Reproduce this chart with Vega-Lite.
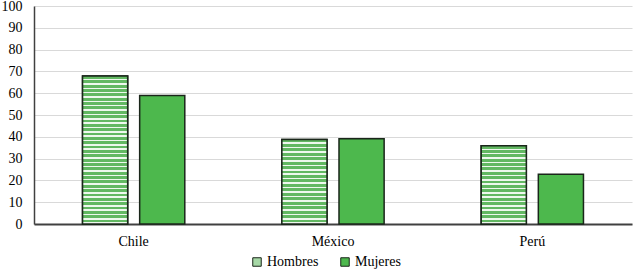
{
  "$schema": "https://vega.github.io/schema/vega-lite/v6.json",
  "width": 598,
  "height": 218,
  "autosize": {"type": "none"},
  "padding": {"left": 34, "top": 6, "right": 2, "bottom": 47},
  "background": "white",
  "config": {"view": {"stroke": null}, "font": "Times New Roman, Liberation Serif, DejaVu Serif, serif",
    "axis": {"labelFont": "Times New Roman, Liberation Serif, DejaVu Serif, serif"}, "legend": {"labelFont": "Times New Roman, Liberation Serif, DejaVu Serif, serif"}},
  "data": {"values": [
    {"pais": "Chile", "sexo": "Hombres", "valor": 67.9},
    {"pais": "Chile", "sexo": "Mujeres", "valor": 59.0},
    {"pais": "México", "sexo": "Hombres", "valor": 38.8},
    {"pais": "México", "sexo": "Mujeres", "valor": 39.1},
    {"pais": "Perú", "sexo": "Hombres", "valor": 35.9},
    {"pais": "Perú", "sexo": "Mujeres", "valor": 22.8}
  ]},
  "encoding": {
    "x": {"field": "pais", "type": "nominal", "sort": ["Chile", "México", "Perú"],
      "scale": {"paddingInner": 0.487, "paddingOuter": 0.2435},
      "axis": {"title": null, "labelAngle": 0, "ticks": false, "domainColor": "#404040", "domainWidth": 2, "labelPadding": 10, "labelFontSize": 14, "labelColor": "black", "grid": false}},
    "xOffset": {"field": "sexo", "type": "nominal", "sort": ["Hombres", "Mujeres"],
      "scale": {"paddingInner": 0.21, "paddingOuter": 0}},
    "y": {"field": "valor", "type": "quantitative",
      "scale": {"domain": [0, 100], "nice": false},
      "axis": {"title": null, "values": [0,10,20,30,40,50,60,70,80,90,100], "grid": true, "gridColor": "#d9d9d9", "gridWidth": 1, "domain": true, "domainColor": "#404040", "domainWidth": 1.5, "ticks": false, "labelPadding": 12, "labelFontSize": 14, "labelColor": "black"}}
  },
  "layer": [
    {
      "mark": {"type": "bar", "stroke": "#1a261a", "strokeWidth": 1.5},
      "encoding": {
        "color": {"field": "sexo", "type": "nominal", "sort": ["Hombres", "Mujeres"],
          "scale": {"domain": ["Hombres", "Mujeres"], "range": ["#a6d8a6", "#4db84d"]},
          "legend": {"orient": "none", "legendX": 216, "legendY": 249, "direction": "horizontal", "title": null, "symbolType": "square", "symbolSize": 72, "symbolStrokeColor": "#1a261a", "symbolStrokeWidth": 1, "labelFontSize": 14, "labelColor": "black", "labelOffset": 3, "columnPadding": 19}}
      }
    },
    {
      "transform": [{"filter": "datum.sexo === 'Hombres'"}],
      "mark": {"type": "bar", "stroke": "#1a261a", "strokeWidth": 1.5},
      "encoding": {
        "fill": {
          "condition": [
            {"test": "datum.pais === 'Chile'", "value": {"gradient": "linear", "x1": 0, "y1": 0, "x2": 0, "y2": 1, "stops": [
              {"offset": 0, "color": "#62b862"}, {"offset": 0.0191, "color": "#62b862"}, {"offset": 0.0191, "color": "#eef8ee"}, {"offset": 0.0294, "color": "#eef8ee"},
              {"offset": 0.0294, "color": "#62b862"}, {"offset": 0.0485, "color": "#62b862"}, {"offset": 0.0485, "color": "#eef8ee"}, {"offset": 0.0588, "color": "#eef8ee"},
              {"offset": 0.0588, "color": "#62b862"}, {"offset": 0.0779, "color": "#62b862"}, {"offset": 0.0779, "color": "#eef8ee"}, {"offset": 0.0882, "color": "#eef8ee"},
              {"offset": 0.0882, "color": "#62b862"}, {"offset": 0.1073, "color": "#62b862"}, {"offset": 0.1073, "color": "#eef8ee"}, {"offset": 0.1176, "color": "#eef8ee"},
              {"offset": 0.1176, "color": "#62b862"}, {"offset": 0.1367, "color": "#62b862"}, {"offset": 0.1367, "color": "#eef8ee"}, {"offset": 0.1471, "color": "#eef8ee"},
              {"offset": 0.1471, "color": "#62b862"}, {"offset": 0.1662, "color": "#62b862"}, {"offset": 0.1662, "color": "#eef8ee"}, {"offset": 0.1765, "color": "#eef8ee"},
              {"offset": 0.1765, "color": "#62b862"}, {"offset": 0.1956, "color": "#62b862"}, {"offset": 0.1956, "color": "#eef8ee"}, {"offset": 0.2059, "color": "#eef8ee"},
              {"offset": 0.2059, "color": "#62b862"}, {"offset": 0.2250, "color": "#62b862"}, {"offset": 0.2250, "color": "#eef8ee"}, {"offset": 0.2353, "color": "#eef8ee"},
              {"offset": 0.2353, "color": "#62b862"}, {"offset": 0.2544, "color": "#62b862"}, {"offset": 0.2544, "color": "#eef8ee"}, {"offset": 0.2647, "color": "#eef8ee"},
              {"offset": 0.2647, "color": "#62b862"}, {"offset": 0.2838, "color": "#62b862"}, {"offset": 0.2838, "color": "#eef8ee"}, {"offset": 0.2941, "color": "#eef8ee"},
              {"offset": 0.2941, "color": "#62b862"}, {"offset": 0.3132, "color": "#62b862"}, {"offset": 0.3132, "color": "#eef8ee"}, {"offset": 0.3235, "color": "#eef8ee"},
              {"offset": 0.3235, "color": "#62b862"}, {"offset": 0.3426, "color": "#62b862"}, {"offset": 0.3426, "color": "#eef8ee"}, {"offset": 0.3529, "color": "#eef8ee"},
              {"offset": 0.3529, "color": "#62b862"}, {"offset": 0.3720, "color": "#62b862"}, {"offset": 0.3720, "color": "#eef8ee"}, {"offset": 0.3824, "color": "#eef8ee"},
              {"offset": 0.3824, "color": "#62b862"}, {"offset": 0.4015, "color": "#62b862"}, {"offset": 0.4015, "color": "#eef8ee"}, {"offset": 0.4118, "color": "#eef8ee"},
              {"offset": 0.4118, "color": "#62b862"}, {"offset": 0.4309, "color": "#62b862"}, {"offset": 0.4309, "color": "#eef8ee"}, {"offset": 0.4412, "color": "#eef8ee"},
              {"offset": 0.4412, "color": "#62b862"}, {"offset": 0.4603, "color": "#62b862"}, {"offset": 0.4603, "color": "#eef8ee"}, {"offset": 0.4706, "color": "#eef8ee"},
              {"offset": 0.4706, "color": "#62b862"}, {"offset": 0.4897, "color": "#62b862"}, {"offset": 0.4897, "color": "#eef8ee"}, {"offset": 0.5, "color": "#eef8ee"},
              {"offset": 0.5, "color": "#62b862"}, {"offset": 0.5191, "color": "#62b862"}, {"offset": 0.5191, "color": "#eef8ee"}, {"offset": 0.5294, "color": "#eef8ee"},
              {"offset": 0.5294, "color": "#62b862"}, {"offset": 0.5485, "color": "#62b862"}, {"offset": 0.5485, "color": "#eef8ee"}, {"offset": 0.5588, "color": "#eef8ee"},
              {"offset": 0.5588, "color": "#62b862"}, {"offset": 0.5779, "color": "#62b862"}, {"offset": 0.5779, "color": "#eef8ee"}, {"offset": 0.5882, "color": "#eef8ee"},
              {"offset": 0.5882, "color": "#62b862"}, {"offset": 0.6073, "color": "#62b862"}, {"offset": 0.6073, "color": "#eef8ee"}, {"offset": 0.6176, "color": "#eef8ee"},
              {"offset": 0.6176, "color": "#62b862"}, {"offset": 0.6367, "color": "#62b862"}, {"offset": 0.6367, "color": "#eef8ee"}, {"offset": 0.6471, "color": "#eef8ee"},
              {"offset": 0.6471, "color": "#62b862"}, {"offset": 0.6662, "color": "#62b862"}, {"offset": 0.6662, "color": "#eef8ee"}, {"offset": 0.6765, "color": "#eef8ee"},
              {"offset": 0.6765, "color": "#62b862"}, {"offset": 0.6956, "color": "#62b862"}, {"offset": 0.6956, "color": "#eef8ee"}, {"offset": 0.7059, "color": "#eef8ee"},
              {"offset": 0.7059, "color": "#62b862"}, {"offset": 0.7250, "color": "#62b862"}, {"offset": 0.7250, "color": "#eef8ee"}, {"offset": 0.7353, "color": "#eef8ee"},
              {"offset": 0.7353, "color": "#62b862"}, {"offset": 0.7544, "color": "#62b862"}, {"offset": 0.7544, "color": "#eef8ee"}, {"offset": 0.7647, "color": "#eef8ee"},
              {"offset": 0.7647, "color": "#62b862"}, {"offset": 0.7838, "color": "#62b862"}, {"offset": 0.7838, "color": "#eef8ee"}, {"offset": 0.7941, "color": "#eef8ee"},
              {"offset": 0.7941, "color": "#62b862"}, {"offset": 0.8132, "color": "#62b862"}, {"offset": 0.8132, "color": "#eef8ee"}, {"offset": 0.8235, "color": "#eef8ee"},
              {"offset": 0.8235, "color": "#62b862"}, {"offset": 0.8426, "color": "#62b862"}, {"offset": 0.8426, "color": "#eef8ee"}, {"offset": 0.8529, "color": "#eef8ee"},
              {"offset": 0.8529, "color": "#62b862"}, {"offset": 0.8720, "color": "#62b862"}, {"offset": 0.8720, "color": "#eef8ee"}, {"offset": 0.8824, "color": "#eef8ee"},
              {"offset": 0.8824, "color": "#62b862"}, {"offset": 0.9015, "color": "#62b862"}, {"offset": 0.9015, "color": "#eef8ee"}, {"offset": 0.9118, "color": "#eef8ee"},
              {"offset": 0.9118, "color": "#62b862"}, {"offset": 0.9309, "color": "#62b862"}, {"offset": 0.9309, "color": "#eef8ee"}, {"offset": 0.9412, "color": "#eef8ee"},
              {"offset": 0.9412, "color": "#62b862"}, {"offset": 0.9603, "color": "#62b862"}, {"offset": 0.9603, "color": "#eef8ee"}, {"offset": 0.9706, "color": "#eef8ee"},
              {"offset": 0.9706, "color": "#62b862"}, {"offset": 0.9897, "color": "#62b862"}, {"offset": 0.9897, "color": "#eef8ee"}, {"offset": 1, "color": "#eef8ee"}
            ]}},
            {"test": "datum.pais === 'México'", "value": {"gradient": "linear", "x1": 0, "y1": 0, "x2": 0, "y2": 1, "stops": [
              {"offset": 0, "color": "#62b862"}, {"offset": 0.0342, "color": "#62b862"}, {"offset": 0.0342, "color": "#eef8ee"}, {"offset": 0.0526, "color": "#eef8ee"},
              {"offset": 0.0526, "color": "#62b862"}, {"offset": 0.0868, "color": "#62b862"}, {"offset": 0.0868, "color": "#eef8ee"}, {"offset": 0.1053, "color": "#eef8ee"},
              {"offset": 0.1053, "color": "#62b862"}, {"offset": 0.1395, "color": "#62b862"}, {"offset": 0.1395, "color": "#eef8ee"}, {"offset": 0.1579, "color": "#eef8ee"},
              {"offset": 0.1579, "color": "#62b862"}, {"offset": 0.1921, "color": "#62b862"}, {"offset": 0.1921, "color": "#eef8ee"}, {"offset": 0.2105, "color": "#eef8ee"},
              {"offset": 0.2105, "color": "#62b862"}, {"offset": 0.2447, "color": "#62b862"}, {"offset": 0.2447, "color": "#eef8ee"}, {"offset": 0.2632, "color": "#eef8ee"},
              {"offset": 0.2632, "color": "#62b862"}, {"offset": 0.2974, "color": "#62b862"}, {"offset": 0.2974, "color": "#eef8ee"}, {"offset": 0.3158, "color": "#eef8ee"},
              {"offset": 0.3158, "color": "#62b862"}, {"offset": 0.3500, "color": "#62b862"}, {"offset": 0.3500, "color": "#eef8ee"}, {"offset": 0.3684, "color": "#eef8ee"},
              {"offset": 0.3684, "color": "#62b862"}, {"offset": 0.4026, "color": "#62b862"}, {"offset": 0.4026, "color": "#eef8ee"}, {"offset": 0.4211, "color": "#eef8ee"},
              {"offset": 0.4211, "color": "#62b862"}, {"offset": 0.4553, "color": "#62b862"}, {"offset": 0.4553, "color": "#eef8ee"}, {"offset": 0.4737, "color": "#eef8ee"},
              {"offset": 0.4737, "color": "#62b862"}, {"offset": 0.5079, "color": "#62b862"}, {"offset": 0.5079, "color": "#eef8ee"}, {"offset": 0.5263, "color": "#eef8ee"},
              {"offset": 0.5263, "color": "#62b862"}, {"offset": 0.5605, "color": "#62b862"}, {"offset": 0.5605, "color": "#eef8ee"}, {"offset": 0.5789, "color": "#eef8ee"},
              {"offset": 0.5789, "color": "#62b862"}, {"offset": 0.6132, "color": "#62b862"}, {"offset": 0.6132, "color": "#eef8ee"}, {"offset": 0.6316, "color": "#eef8ee"},
              {"offset": 0.6316, "color": "#62b862"}, {"offset": 0.6658, "color": "#62b862"}, {"offset": 0.6658, "color": "#eef8ee"}, {"offset": 0.6842, "color": "#eef8ee"},
              {"offset": 0.6842, "color": "#62b862"}, {"offset": 0.7184, "color": "#62b862"}, {"offset": 0.7184, "color": "#eef8ee"}, {"offset": 0.7368, "color": "#eef8ee"},
              {"offset": 0.7368, "color": "#62b862"}, {"offset": 0.7711, "color": "#62b862"}, {"offset": 0.7711, "color": "#eef8ee"}, {"offset": 0.7895, "color": "#eef8ee"},
              {"offset": 0.7895, "color": "#62b862"}, {"offset": 0.8237, "color": "#62b862"}, {"offset": 0.8237, "color": "#eef8ee"}, {"offset": 0.8421, "color": "#eef8ee"},
              {"offset": 0.8421, "color": "#62b862"}, {"offset": 0.8763, "color": "#62b862"}, {"offset": 0.8763, "color": "#eef8ee"}, {"offset": 0.8947, "color": "#eef8ee"},
              {"offset": 0.8947, "color": "#62b862"}, {"offset": 0.9289, "color": "#62b862"}, {"offset": 0.9289, "color": "#eef8ee"}, {"offset": 0.9474, "color": "#eef8ee"},
              {"offset": 0.9474, "color": "#62b862"}, {"offset": 0.9816, "color": "#62b862"}, {"offset": 0.9816, "color": "#eef8ee"}, {"offset": 1, "color": "#eef8ee"}
            ]}}
          ],
          "value": {"gradient": "linear", "x1": 0, "y1": 0, "x2": 0, "y2": 1, "stops": [
            {"offset": 0, "color": "#62b862"}, {"offset": 0.0361, "color": "#62b862"}, {"offset": 0.0361, "color": "#eef8ee"}, {"offset": 0.0556, "color": "#eef8ee"},
            {"offset": 0.0556, "color": "#62b862"}, {"offset": 0.0917, "color": "#62b862"}, {"offset": 0.0917, "color": "#eef8ee"}, {"offset": 0.1111, "color": "#eef8ee"},
            {"offset": 0.1111, "color": "#62b862"}, {"offset": 0.1472, "color": "#62b862"}, {"offset": 0.1472, "color": "#eef8ee"}, {"offset": 0.1667, "color": "#eef8ee"},
            {"offset": 0.1667, "color": "#62b862"}, {"offset": 0.2028, "color": "#62b862"}, {"offset": 0.2028, "color": "#eef8ee"}, {"offset": 0.2222, "color": "#eef8ee"},
            {"offset": 0.2222, "color": "#62b862"}, {"offset": 0.2583, "color": "#62b862"}, {"offset": 0.2583, "color": "#eef8ee"}, {"offset": 0.2778, "color": "#eef8ee"},
            {"offset": 0.2778, "color": "#62b862"}, {"offset": 0.3139, "color": "#62b862"}, {"offset": 0.3139, "color": "#eef8ee"}, {"offset": 0.3333, "color": "#eef8ee"},
            {"offset": 0.3333, "color": "#62b862"}, {"offset": 0.3694, "color": "#62b862"}, {"offset": 0.3694, "color": "#eef8ee"}, {"offset": 0.3889, "color": "#eef8ee"},
            {"offset": 0.3889, "color": "#62b862"}, {"offset": 0.4250, "color": "#62b862"}, {"offset": 0.4250, "color": "#eef8ee"}, {"offset": 0.4444, "color": "#eef8ee"},
            {"offset": 0.4444, "color": "#62b862"}, {"offset": 0.4806, "color": "#62b862"}, {"offset": 0.4806, "color": "#eef8ee"}, {"offset": 0.5, "color": "#eef8ee"},
            {"offset": 0.5, "color": "#62b862"}, {"offset": 0.5361, "color": "#62b862"}, {"offset": 0.5361, "color": "#eef8ee"}, {"offset": 0.5556, "color": "#eef8ee"},
            {"offset": 0.5556, "color": "#62b862"}, {"offset": 0.5917, "color": "#62b862"}, {"offset": 0.5917, "color": "#eef8ee"}, {"offset": 0.6111, "color": "#eef8ee"},
            {"offset": 0.6111, "color": "#62b862"}, {"offset": 0.6472, "color": "#62b862"}, {"offset": 0.6472, "color": "#eef8ee"}, {"offset": 0.6667, "color": "#eef8ee"},
            {"offset": 0.6667, "color": "#62b862"}, {"offset": 0.7028, "color": "#62b862"}, {"offset": 0.7028, "color": "#eef8ee"}, {"offset": 0.7222, "color": "#eef8ee"},
            {"offset": 0.7222, "color": "#62b862"}, {"offset": 0.7583, "color": "#62b862"}, {"offset": 0.7583, "color": "#eef8ee"}, {"offset": 0.7778, "color": "#eef8ee"},
            {"offset": 0.7778, "color": "#62b862"}, {"offset": 0.8139, "color": "#62b862"}, {"offset": 0.8139, "color": "#eef8ee"}, {"offset": 0.8333, "color": "#eef8ee"},
            {"offset": 0.8333, "color": "#62b862"}, {"offset": 0.8694, "color": "#62b862"}, {"offset": 0.8694, "color": "#eef8ee"}, {"offset": 0.8889, "color": "#eef8ee"},
            {"offset": 0.8889, "color": "#62b862"}, {"offset": 0.9250, "color": "#62b862"}, {"offset": 0.9250, "color": "#eef8ee"}, {"offset": 0.9444, "color": "#eef8ee"},
            {"offset": 0.9444, "color": "#62b862"}, {"offset": 0.9806, "color": "#62b862"}, {"offset": 0.9806, "color": "#eef8ee"}, {"offset": 1, "color": "#eef8ee"}
          ]}
        }
      }
    }
  ]
}
